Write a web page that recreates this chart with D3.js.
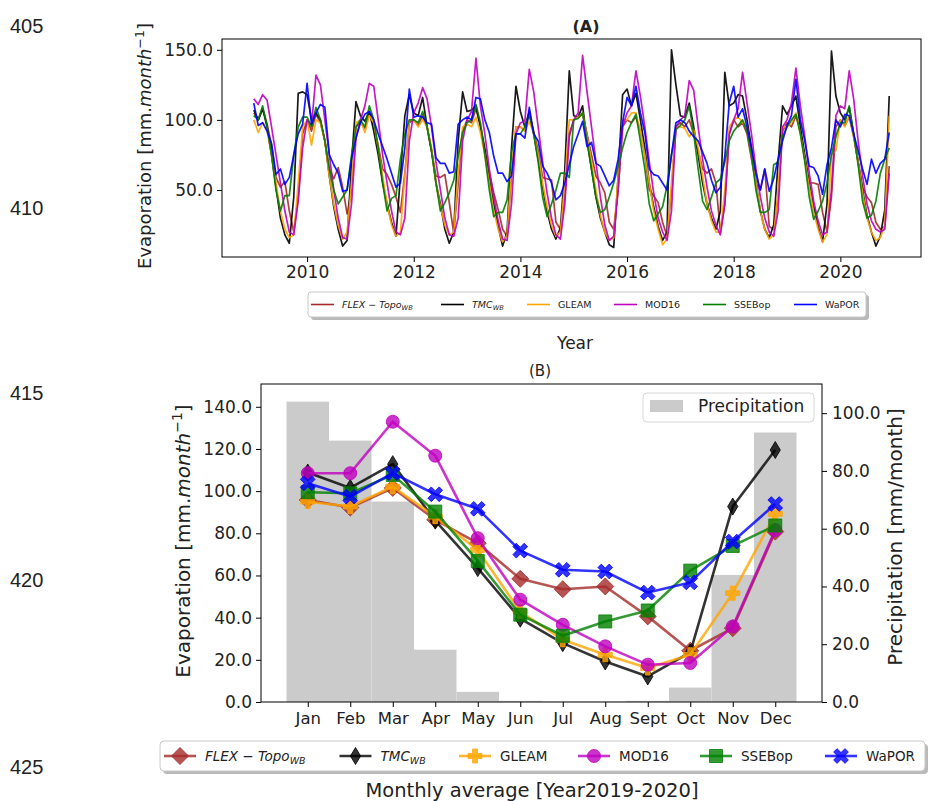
<!DOCTYPE html>
<html><head><meta charset="utf-8">
<script src="https://cdn.jsdelivr.net/npm/d3@7"></script>
<style>body{margin:0;background:#fff}svg{display:block}text{font-family:"DejaVu Sans",sans-serif;fill:#222}</style>
</head><body><svg id="c" width="941" height="801"></svg>
<script>
// ---------- DATA ----------
const seriesNames = ["FLEX","TMC","GLEAM","MOD16","SSEBop","WaPOR"];
const seriesColors = ["#a52a2a","#000000","#ffa500","#bf00bf","#008000","#0000ff"];
const seriesMarkers = ["D","d","P","o","s","X"];
const yearTicks = [2010,2012,2014,2016,2018,2020];
const startYear = 2009;

// Panel A: monthly evaporation Jan 2009 - Dec 2020 (mm/month)
const flexMonthly = [
 105,100,108,97,82,59,52,56,35,20,45,90,
 100,92,104,98,85,65,58,66,52,33,50,95,
 98,94,104,96,82,65,61,54,45,34,62,98,
 100,96,103,95,78,60,59,61,41,19,55,92,
 100,98,108,96,80,62,48,36,22,17,60,95,
 95,92,104,92,78,59,58,57,27,22,45,88,
 100,102,104,90,75,60,55,48,27,22,50,95,
 100,98,102,92,75,50,46,41,27,17,50,95,
 98,95,100,90,78,65,62,65,55,20,40,90,
 100,95,98,90,72,55,50,65,24,22,45,92,
 98,95,103,92,72,55,55,54,34,20,45,95,
 100,96,102,88,70,52,45,41,27,22,24,67];
const tmcMonthly = [
 107,100,108,95,75,52,30,18,12,45,119,120,
 118,100,105,100,85,60,38,22,10,14,70,113,
 103,99,106,92,75,55,40,27,17,60,103,118,
 105,103,116,95,78,55,40,22,12,20,85,120,
 106,107,110,95,78,58,40,24,10,20,80,124,
 106,95,106,90,72,52,35,22,15,23,65,135,
 103,102,110,85,65,45,30,20,11,9,60,118,
 122,110,119,100,80,55,38,24,14,20,150,125,
 103,102,112,95,75,55,40,30,22,35,134,110,
 112,118,117,100,80,55,35,22,16,25,70,110,
 104,110,117,95,75,55,38,24,13,40,149,117,
 105,100,109,90,70,50,32,20,10,17,36,117];
const gleamMonthly = [
 100,91,98,92,75,55,35,22,16,18,55,95,
 100,82,100,98,85,60,40,25,15,20,55,98,
 100,91,103,98,80,60,40,25,17,20,60,100,
 100,95,100,95,80,55,38,25,18,20,62,95,
 97,95,102,91,75,55,35,22,13,18,65,95,
 95,92,99,90,75,55,38,25,17,20,55,100,
 100,102,105,88,70,50,32,20,14,16,60,100,
 100,105,105,92,75,55,35,22,11,15,55,95,
 95,94,88,93,80,60,40,28,20,20,50,95,
 100,102,98,95,75,55,35,22,15,18,50,95,
 95,98,105,90,72,52,34,22,13,18,75,78,
 100,95,103,88,70,48,30,20,14,16,25,103];
const mod16Monthly = [
 115,111,118,114,95,75,55,35,20,18,42,80,
 100,96,132,125,100,75,50,30,16,15,40,87,
 100,110,126,124,100,75,55,35,20,18,30,85,
 105,112,123,115,95,70,50,30,18,17,30,85,
 100,106,144,110,90,65,45,28,15,14,40,90,
 98,99,136,120,95,70,48,30,18,15,40,90,
 100,105,146,120,95,70,45,25,14,17,50,95,
 105,110,135,117,95,70,48,30,20,14,35,95,
 100,103,128,121,95,72,52,35,25,18,40,90,
 100,108,134,112,90,65,45,30,20,17,35,95,
 100,112,137,110,88,62,42,28,18,20,50,103,
 110,108,135,115,85,60,40,28,22,20,22,62];
const ssebopMonthly = [
 103,100,110,95,75,50,35,46,46,75,95,102,
 102,95,109,100,85,65,50,40,45,50,75,95,
 100,95,110,100,80,55,35,44,46,72,90,100,
 100,98,106,95,78,55,35,41,48,57,74,91,
 98,100,111,98,75,50,31,34,34,43,77,90,
 90,95,104,90,70,45,31,40,50,62,62,59,
 100,101,105,85,65,45,34,36,45,55,67,80,
 91,98,104,85,65,40,28,33,38,53,75,93,
 96,100,110,90,65,42,36,45,55,58,70,85,
 92,96,100,92,75,50,34,34,36,68,70,88,
 95,100,104,90,70,45,29,35,42,55,75,88,
 98,98,110,90,68,42,30,32,42,62,72,80];
const waporMonthly = [
 112,96,98,92,83,61,65,54,59,75,90,97,
 126,97,105,111,109,75,68,62,49,50,72,87,
 98,104,106,100,90,81,72,62,52,55,80,122,
 102,103,102,98,97,73,69,69,62,63,97,100,
 102,100,116,115,100,91,74,62,62,56,60,90,
 90,87,109,90,85,67,62,55,43,46,55,68,
 81,90,99,81,84,69,67,60,53,57,72,98,
 116,110,124,105,91,65,61,60,55,50,75,98,
 100,98,92,88,85,77,69,57,48,52,74,112,
 124,102,108,95,80,62,50,65,49,58,72,85,
 96,103,129,100,85,67,66,60,47,68,80,100,
 95,104,103,90,78,65,54,72,62,69,72,91];

// Panel B: monthly averages 2019-2020
const monthLabels = ["Jan","Feb","Mar","Apr","May","Jun","Jul","Aug","Sept","Oct","Nov","Dec"];
const precipitation = [104,90.5,69.4,18.1,3.5,0.4,0.1,0.1,0.4,5.0,44,93.3];
const flexAvg   = [95.8,92.2,101.5,86.4,75.3,58.4,53.5,54.8,40.6,24.3,35.0,80.8];
const tmcAvg    = [108.8,101.5,112.8,86.0,63.5,39.5,27.9,19.2,12.1,23.5,92.7,119.5];
const gleamAvg  = [95.0,92.7,102.1,87.9,72.1,42.9,29.5,22.4,16.1,22.4,51.6,89.2];
const mod16Avg  = [108.5,108.5,132.9,116.8,77.7,48.5,36.6,26.4,17.7,18.5,35.8,81.6];
const ssebopAvg = [99.5,99.0,107.7,90.3,66.9,41.4,31.4,38.2,43.4,62.3,74.0,83.7];
const waporAvg  = [103.7,97.4,108.5,98.5,91.6,71.8,62.7,61.9,51.9,56.7,76.1,93.9];
const evapTicksB = [0,20,40,60,80,100,120,140];
const precipTicks = [0,20,40,60,80,100];
const lineNumbers = [405,410,415,420,425];

const monthlySeries = [flexMonthly,tmcMonthly,gleamMonthly,mod16Monthly,ssebopMonthly,waporMonthly];
const avgSeries = [flexAvg,tmcAvg,gleamAvg,mod16Avg,ssebopAvg,waporAvg];

// ---------- DRAW ----------
const svg = d3.select("#c");
const fmt1 = d3.format(".1f");

// line numbers
const lnY = [26,208,393,580,767];
lineNumbers.forEach((n,i)=>svg.append("text").attr("x",10).attr("y",lnY[i]).attr("dy","0.35em")
  .style("font-family","'Liberation Sans',sans-serif").style("font-size","20px").text(n));

function labelParts(sel, name, fs){
  if(name==="FLEX"||name==="TMC"){
    sel.append("tspan").style("font-style","italic").text(name==="FLEX"?"FLEX − Topo":"TMC");
    sel.append("tspan").style("font-style","italic").style("font-size",(fs*0.7)+"px").attr("dy","0.3em").text("WB");
  } else sel.text(name);
}
function markerPath(t){
  const p = d3.path();
  if(t==="D"){const s=8.5;p.moveTo(0,-s);p.lineTo(s,0);p.lineTo(0,s);p.lineTo(-s,0);p.closePath();}
  else if(t==="d"){const s=8.5;p.moveTo(0,-s);p.lineTo(0.6*s,0);p.lineTo(0,s);p.lineTo(-0.6*s,0);p.closePath();}
  else if(t==="o"){p.arc(0,0,6.5,0,2*Math.PI);p.closePath();}
  else if(t==="s"){p.rect(-6.5,-6.5,13,13);}
  else {const s=t==="X"?8:7, w=2.4;
    const pts=[[-w,-s],[w,-s],[w,-w],[s,-w],[s,w],[w,w],[w,s],[-w,s],[-w,w],[-s,w],[-s,-w],[-w,-w]];
    const a=t==="X"?Math.PI/4:0;
    pts.forEach(([x,y],i)=>{const X=x*Math.cos(a)-y*Math.sin(a),Y=x*Math.sin(a)+y*Math.cos(a); i?p.lineTo(X,Y):p.moveTo(X,Y);});
    p.closePath();}
  return p.toString();
}
function styleAxis(g, fs){
  g.select(".domain").remove();
  g.selectAll(".tick line").attr("stroke","#000");
  g.selectAll(".tick text").style("font-size",fs+"px").style("font-family","'DejaVu Sans',sans-serif").attr("fill","#222");
}

// ===== Panel A =====
const A = {l:222,r:921,t:39,b:257};
const xA = d3.scaleLinear().domain([startYear-7.15/12, startYear+150.15/12]).range([A.l,A.r]);
const yA = d3.scaleLinear().domain([2.2,157.7]).range([A.b,A.t]);
const lineA = d3.line().x((d,i)=>xA(startYear+i/12)).y(d=>yA(d));
monthlySeries.forEach((s,k)=>{
  svg.append("path").datum(s).attr("d",lineA).attr("fill","none")
    .attr("stroke",seriesColors[k]).attr("stroke-width",1.7).attr("stroke-opacity",0.9).attr("stroke-linejoin","round");
});
svg.append("rect").attr("x",A.l).attr("y",A.t).attr("width",A.r-A.l).attr("height",A.b-A.t)
  .attr("fill","none").attr("stroke","#000").attr("stroke-width",1);
svg.append("g").attr("transform",`translate(${A.l},0)`)
  .call(d3.axisLeft(yA).tickValues([50,100,150]).tickFormat(fmt1).tickSize(5).tickPadding(4)).call(g=>styleAxis(g,17));
svg.append("g").attr("transform",`translate(0,${A.b})`)
  .call(d3.axisBottom(xA).tickValues(yearTicks).tickFormat(d3.format("d")).tickSize(5).tickPadding(4)).call(g=>styleAxis(g,17));
svg.append("text").attr("x",586).attr("y",26).attr("dy","0.35em").attr("text-anchor","middle")
  .style("font-weight","bold").style("font-size","16px").text("(A)");
function evapLabel(x,y,fs){
  const t = svg.append("text").attr("transform",`translate(${x},${y}) rotate(-90)`).attr("text-anchor","middle")
    .attr("dy","0.35em").style("font-size",fs+"px");
  t.append("tspan").text("Evaporation [mm.");
  t.append("tspan").style("font-style","italic").text("month");
  t.append("tspan").style("font-size",(fs*0.7)+"px").attr("dy","-0.6em").text("−1");
  t.append("tspan").attr("dy",(fs*0.42)+"px").text("]");
}
evapLabel(145,146,18);
svg.append("text").attr("x",575).attr("y",343).attr("dy","0.35em").attr("text-anchor","middle").style("font-size","17px").text("Year");

// legend A
const legA = svg.append("g");
legA.append("rect").attr("x",311).attr("y",295).attr("width",558).attr("height",25).attr("rx",3).attr("fill","#8a8a8a").attr("opacity",0.6);
legA.append("rect").attr("x",308).attr("y",292).attr("width",558).attr("height",25).attr("rx",3).attr("fill","#fff").attr("stroke","#c8c8c8");
const legAx = [311,441,527,614,703,794];
seriesNames.forEach((n,k)=>{
  legA.append("line").attr("x1",legAx[k]).attr("x2",legAx[k]+23).attr("y1",304.5).attr("y2",304.5)
    .attr("stroke",seriesColors[k]).attr("stroke-width",1.6);
  const t = legA.append("text").attr("x",legAx[k]+31).attr("y",304.5).attr("dy","0.35em").style("font-size","9.5px");
  labelParts(t,n,9.5);
});

// ===== Panel B =====
const B = {l:261,r:822,t:384,b:702};
const xB = d3.scaleLinear().domain([-1.1,12.1]).range([B.l,B.r]);
const yL = d3.scaleLinear().domain([0,150.8]).range([B.b,B.t]);
const yR = d3.scaleLinear().domain([0,110.1]).range([B.b,B.t]);
svg.append("g").selectAll("rect").data(precipitation).join("rect")
  .attr("x",(d,i)=>xB(i-0.5)).attr("width",(d,i)=>xB(i+0.5)-xB(i-0.5))
  .attr("y",d=>yR(d)).attr("height",d=>B.b-yR(d)).attr("fill","#cbcbcb");
const lineB = d3.line().x((d,i)=>xB(i)).y(d=>yL(d));
avgSeries.forEach((s,k)=>{
  const g = svg.append("g");
  g.append("path").datum(s).attr("d",lineB).attr("fill","none").attr("stroke",seriesColors[k])
    .attr("stroke-width",2.6).attr("stroke-opacity",0.8).attr("stroke-linejoin","round");
  g.selectAll("path.m").data(s).join("path").attr("class","m").attr("d",markerPath(seriesMarkers[k]))
    .attr("transform",(d,i)=>`translate(${xB(i)},${yL(d)})`)
    .attr("fill",seriesColors[k]).attr("fill-opacity",0.8)
    .attr("stroke",seriesColors[k]).attr("stroke-opacity",0.8).attr("stroke-width",1);
});
svg.append("rect").attr("x",B.l).attr("y",B.t).attr("width",B.r-B.l).attr("height",B.b-B.t)
  .attr("fill","none").attr("stroke","#000").attr("stroke-width",1);
svg.append("g").attr("transform",`translate(${B.l},0)`)
  .call(d3.axisLeft(yL).tickValues(evapTicksB).tickFormat(fmt1).tickSize(5).tickPadding(4)).call(g=>styleAxis(g,17));
svg.append("g").attr("transform",`translate(${B.r},0)`)
  .call(d3.axisRight(yR).tickValues(precipTicks).tickFormat(fmt1).tickSize(5).tickPadding(5)).call(g=>styleAxis(g,17));
svg.append("g").attr("transform",`translate(0,${B.b})`)
  .call(d3.axisBottom(xB).tickValues(d3.range(12)).tickFormat(i=>monthLabels[i]).tickSize(5).tickPadding(5)).call(g=>styleAxis(g,16.5));
svg.append("text").attr("x",540).attr("y",371).attr("dy","0.35em").attr("text-anchor","middle").style("font-size","15px").text("(B)");
evapLabel(183,541,20);
svg.append("text").attr("transform","translate(895,537) rotate(-90)").attr("text-anchor","middle").attr("dy","0.35em")
  .style("font-size","20px").text("Precipitation [mm/month]");
svg.append("text").attr("x",532).attr("y",790).attr("dy","0.35em").attr("text-anchor","middle").style("font-size","19.5px")
  .text("Monthly average [Year2019-2020]");

// precipitation legend
svg.append("rect").attr("x",643).attr("y",393).attr("width",171).attr("height",29).attr("rx",4).attr("fill","#fff").attr("fill-opacity",0.8).attr("stroke","#d8d8d8");
svg.append("rect").attr("x",650).attr("y",400).attr("width",33).attr("height",12).attr("fill","#cbcbcb");
svg.append("text").attr("x",698).attr("y",406).attr("dy","0.35em").style("font-size","17px").text("Precipitation");

// legend B
const legB = svg.append("g");
legB.append("rect").attr("x",163).attr("y",744).attr("width",765).attr("height",30).attr("rx",4).attr("fill","#8a8a8a").attr("opacity",0.6);
legB.append("rect").attr("x",160).attr("y",741).attr("width",765).attr("height",30).attr("rx",4).attr("fill","#fff").attr("stroke","#c8c8c8");
const legBx = [180,355.5,475,594,716,841];
seriesNames.forEach((n,k)=>{
  legB.append("line").attr("x1",legBx[k]-16).attr("x2",legBx[k]+16).attr("y1",756).attr("y2",756)
    .attr("stroke",seriesColors[k]).attr("stroke-width",2.6).attr("stroke-opacity",0.8);
  legB.append("path").attr("d",markerPath(seriesMarkers[k])).attr("transform",`translate(${legBx[k]},756)`)
    .attr("fill",seriesColors[k]).attr("fill-opacity",0.8).attr("stroke",seriesColors[k]).attr("stroke-opacity",0.8);
  const t = legB.append("text").attr("x",legBx[k]+25).attr("y",756).attr("dy","0.35em").style("font-size","13.5px");
  labelParts(t,n,13.5);
});
</script></body></html>
